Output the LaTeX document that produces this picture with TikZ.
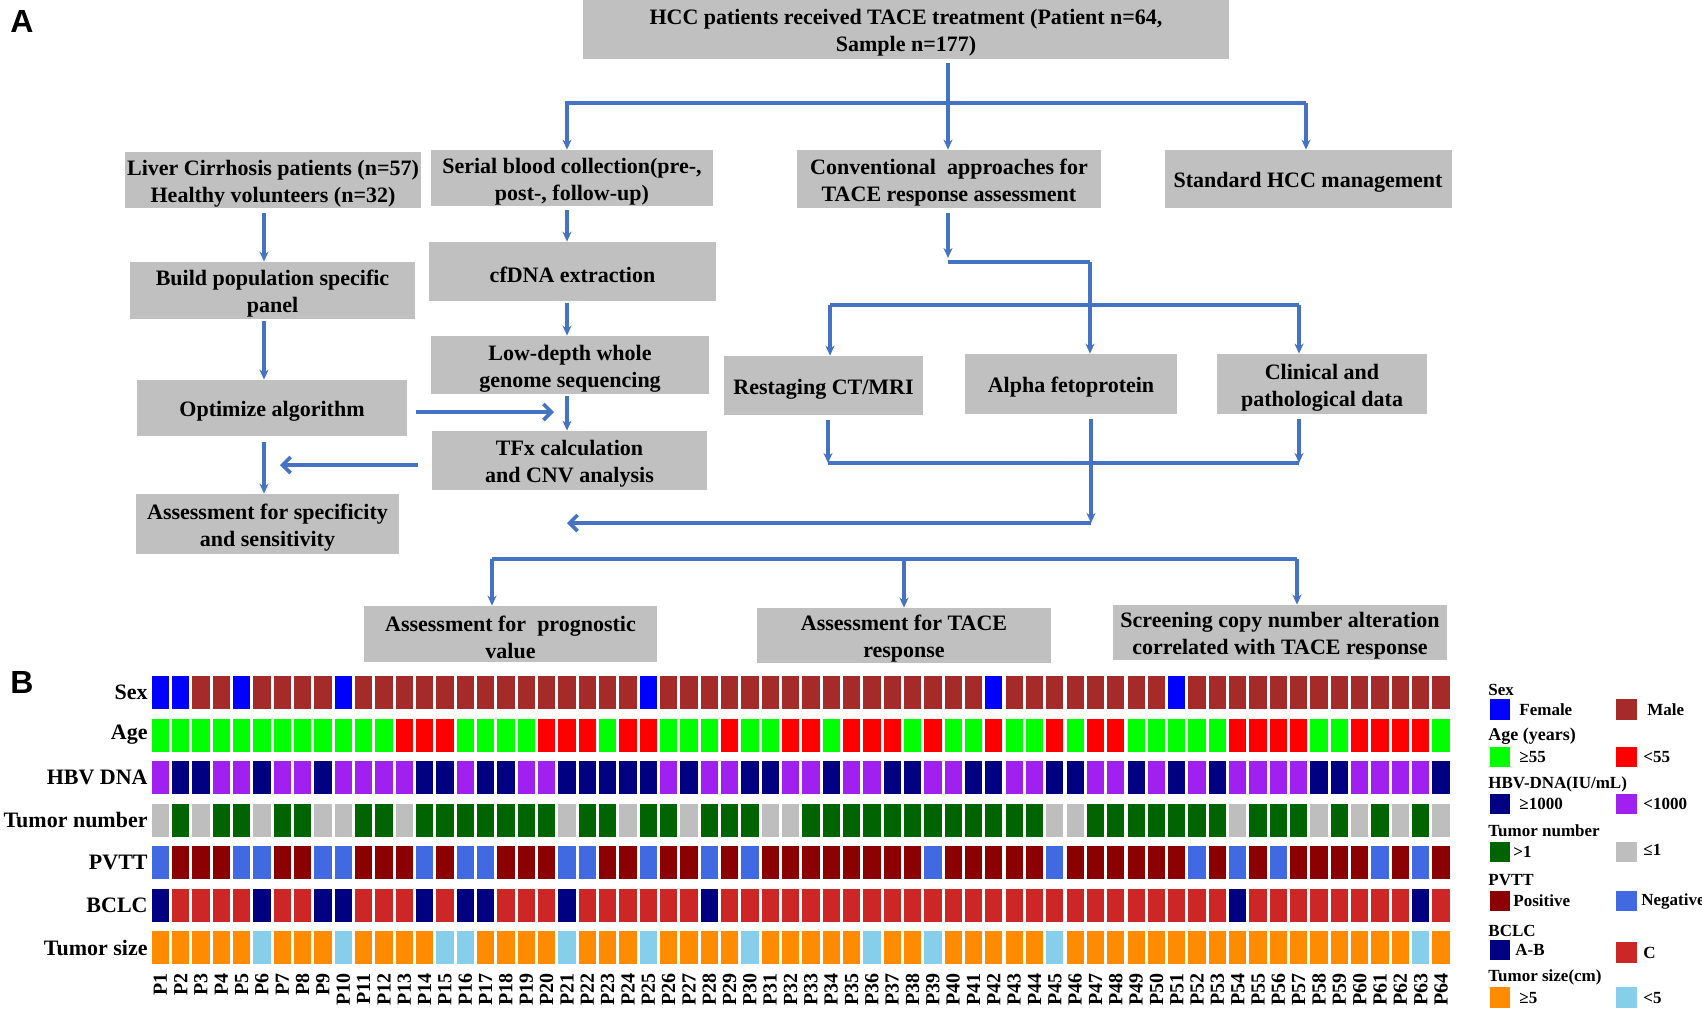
\documentclass[tikz,border=0pt]{standalone}
\usepackage{fontspec}
\setmainfont{Liberation Serif}
\newfontfamily\panelfont{Liberation Sans}
\usepackage{tikz}
\usetikzlibrary{arrows.meta,positioning}
\definecolor{boxgray}{RGB}{192,192,192}
\definecolor{flowblue}{RGB}{68,114,196}
\definecolor{sxF}{RGB}{0,0,255}
\definecolor{sxM}{RGB}{165,42,42}
\definecolor{agG}{RGB}{0,255,0}
\definecolor{agR}{RGB}{255,0,0}
\definecolor{hbN}{RGB}{0,0,128}
\definecolor{hbP}{RGB}{160,32,240}
\definecolor{tnG}{RGB}{0,100,0}
\definecolor{tnY}{RGB}{190,190,190}
\definecolor{pvP}{RGB}{139,0,0}
\definecolor{pvN}{RGB}{65,105,225}
\definecolor{bcA}{RGB}{0,0,128}
\definecolor{bcC}{RGB}{205,38,38}
\definecolor{tsO}{RGB}{255,140,0}
\definecolor{tsB}{RGB}{135,206,235}
% one row of the heatmap: row index, colour prefix, codes
\newcommand{\heatrow}[3]{%
  \foreach \v [count=\i] in {#3} {
    \fill[fill=#2\v] ({160.3+(\i-1)*20.33-8.65},{676+(#1-1)*42.5}) rectangle ++(17.3,33);
  }%
}
\begin{document}
\begin{tikzpicture}[
    x=0.5pt, y=-0.5pt,
    box/.style={fill=boxgray, align=center, inner sep=0pt, font=\fontsize{11}{13.5}\selectfont\bfseries},
    oneline/.style={box, text height=11pt},
    twoline/.style={box, text height=24.5pt},
    arrow/.style={-{Stealth[length=5pt,width=4.5pt]}, line width=1.8pt, flowblue},
    barb/.style={-{Straight Barb[length=4pt,width=8pt]}, line width=1.8pt, flowblue},
    link/.style={line width=1.8pt, flowblue},
    rowlab/.style={anchor=east, inner sep=0pt, font=\fontsize{11}{13}\selectfont\bfseries},
    plab/.style={rotate=90, anchor=east, inner sep=0pt, font=\fontsize{10}{12}\selectfont\bfseries},
    legtxt/.style={anchor=west, inner sep=0pt, font=\fontsize{8.5}{10}\selectfont\bfseries},
    swatch/.style={minimum width=10.35pt, minimum height=10.35pt, inner sep=0pt}
]
\useasboundingbox (0,0) rectangle (1702,1008);

\node[font=\fontsize{16}{18}\panelfont\bfseries] (pa) at (22,21) {A};
\node[font=\fontsize{16}{18}\panelfont\bfseries] (pb) at (22,682) {B};

% flow chart
\node[twoline, minimum width=323pt, minimum height=29.5pt] (top) at (906,29.5) {HCC patients received TACE treatment (Patient n=64,\\Sample n=177)};
\node[twoline, minimum width=148pt, minimum height=28pt] (liver) at (273,180) {Liver Cirrhosis patients (n=57)\\Healthy volunteers (n=32)};
\node[twoline, minimum width=141pt, minimum height=28pt] (serial) at (572,178) {Serial blood collection(pre-,\\post-, follow-up)};
\node[twoline, minimum width=152pt, minimum height=29pt] (conv) at (949,179) {Conventional\ \ approaches for\\TACE response assessment};
\node[oneline, minimum width=143.5pt, minimum height=29pt] (std) at (1308,179) {Standard HCC management};
\node[twoline, minimum width=142.5pt, minimum height=28.5pt] (build) at (272.5,290.5) {Build population specific\\panel};
\node[oneline, minimum width=143.5pt, minimum height=29.5pt] (cfdna) at (572.5,271.5) {cfDNA extraction};
\node[oneline, minimum width=135pt, minimum height=28pt] (optim) at (272,408) {Optimize algorithm};
\node[twoline, minimum width=139pt, minimum height=29pt] (lowdep) at (570,365) {Low-depth whole\\genome sequencing};
\node[twoline, minimum width=137.5pt, minimum height=29.5pt] (tfx) at (569.5,460.5) {TFx calculation\\and CNV analysis};
\node[twoline, minimum width=131.5pt, minimum height=30pt] (spec) at (267.5,524) {Assessment for specificity\\and sensitivity};
\node[oneline, minimum width=99.5pt, minimum height=29.5pt] (restage) at (823.5,385.5) {Restaging CT/MRI};
\node[oneline, minimum width=106pt, minimum height=30pt] (afp) at (1071,384) {Alpha fetoprotein};
\node[twoline, minimum width=105pt, minimum height=30pt] (clin) at (1322,384) {Clinical and\\pathological data};
\node[twoline, minimum width=146.5pt, minimum height=28pt] (progn) at (510.5,634) {Assessment for\ \ prognostic\\value};
\node[twoline, minimum width=147pt, minimum height=27.5pt] (tresp) at (904,635.5) {Assessment for TACE\\response};
\node[twoline, minimum width=167pt, minimum height=27.5pt] (screen) at (1280,632.5) {Screening copy number alteration\\correlated with TACE response};

\coordinate (tl) at (567,103);
\coordinate (tc) at (948,103);
\coordinate (tr) at (1306,103);
\coordinate (lx) at (264,0);
\coordinate (mx) at (567,0);
\draw[arrow, shorten <=2pt] (top.south -| tc) -- (conv.north -| tc);
\draw[arrow] (tr) -- (tl) -- (serial.north -| tl);
\draw[arrow] (tr) -- (std.north -| tr);

\draw[arrow, shorten <=2.5pt] (liver.south -| lx) -- (build.north -| lx);
\draw[arrow, shorten <=1pt] (build.south -| lx) -- (optim.north -| lx);
\draw[arrow, shorten <=3pt] (optim.south -| lx) -- (spec.north -| lx);
\draw[arrow, shorten <=2pt] (serial.south -| mx) -- (cfdna.north -| mx);
\draw[arrow, shorten <=1pt] (cfdna.south -| mx) -- (lowdep.north -| mx);
\draw[arrow, shorten <=1pt] (lowdep.south -| mx) -- (tfx.north -| mx);

\coordinate (oa) at (554,412);
\coordinate (ta) at (280,465);
\draw[barb, shorten <=4.5pt] (optim.east |- oa) -- (oa);
\draw[barb, shorten <=7pt] (tfx.west |- ta) -- (ta);

\coordinate (c1) at (948,258);
\coordinate (c2) at (948,262);
\coordinate (c3) at (1090,262);
\coordinate (r1) at (830,305);
\coordinate (r2) at (1299,305);
\draw[arrow, shorten <=2.5pt] (conv.south -| c1) -- (c1);
\draw[link] (c2) -- (c3);
\draw[arrow] (c3) -- (afp.north -| c3);
\draw[link] (r1) -- (r2);
\draw[arrow] (r1) -- (restage.north -| r1);
\draw[arrow] (r2) -- (clin.north -| r2);

\coordinate (d1) at (828,463);
\coordinate (d2) at (1299,463);
\coordinate (d3) at (1091,523);
\coordinate (d4) at (567,523);
\draw[arrow, shorten <=2.5pt] (restage.south -| d1) -- (d1);
\draw[arrow, shorten <=2.5pt] (clin.south -| d2) -- (d2);
\draw[link] (d1) -- (d2);
\draw[arrow, shorten <=2.5pt] (afp.south -| d3) -- (d3);
\draw[barb] (d3) -- (d4);

\coordinate (b1) at (492,559);
\coordinate (b2) at (1297,559);
\coordinate (b3) at (904,559);
\draw[link] (b1) -- (b2);
\draw[arrow] (b1) -- (progn.north -| b1);
\draw[arrow] (b3) -- (tresp.north -| b3);
\draw[arrow] (b2) -- (screen.north -| b2);

% heatmap
\heatrow{1}{sx}{F,F,M,M,F,M,M,M,M,F, M,M,M,M,M,M,M,M,M,M, M,M,M,M,F,M,M,M,M,M, M,M,M,M,M,M,M,M,M,M, M,F,M,M,M,M,M,M,M,M, F,M,M,M,M,M,M,M,M,M, M,M,M,M}
\heatrow{2}{ag}{G,G,G,G,G,G,G,G,G,G, G,G,R,R,R,G,G,G,G,R, R,R,G,R,R,G,G,G,R,G, G,R,R,G,R,R,R,G,R,G, G,R,G,G,R,G,R,R,G,G, G,G,G,R,R,R,R,G,G,R, R,R,R,G}
\heatrow{3}{hb}{P,N,N,P,P,N,P,P,N,P, P,P,P,N,N,P,N,N,P,P, N,N,N,N,N,P,N,P,P,N, N,P,P,N,P,P,N,N,P,P, N,N,P,P,N,N,P,P,N,P, N,P,N,P,P,P,P,N,N,P, P,P,P,N}
\heatrow{4}{tn}{Y,G,Y,G,G,Y,G,G,Y,Y, G,G,Y,G,G,G,G,G,G,G, Y,G,G,Y,G,G,Y,G,G,G, Y,Y,G,G,G,G,G,G,G,G, G,G,G,G,Y,Y,G,G,G,G, G,G,G,Y,G,G,G,Y,G,Y, G,Y,G,Y}
\heatrow{5}{pv}{N,P,P,P,N,N,P,P,N,N, P,P,P,N,P,N,N,P,P,P, N,N,P,P,N,P,P,N,P,N, P,P,P,P,P,P,P,P,N,P, P,P,P,P,N,P,P,P,P,P, P,N,P,N,P,N,P,P,P,P, N,P,N,P}
\heatrow{6}{bc}{A,C,C,C,C,A,C,C,A,A, C,C,C,A,C,A,A,C,C,C, A,C,C,C,C,C,C,A,C,C, C,C,C,C,C,C,C,C,C,C, C,C,C,C,C,C,C,C,C,C, C,C,C,A,C,C,C,C,C,C, C,C,A,C}
\heatrow{7}{ts}{O,O,O,O,O,B,O,O,O,B, O,O,O,O,B,B,O,O,O,O, B,O,O,O,B,O,O,O,O,B, O,O,O,O,O,B,O,O,B,O, O,O,O,O,B,O,O,O,O,O, O,O,O,O,O,O,O,O,O,O, O,O,B,O}

\foreach \t [count=\r] in {Sex,Age,HBV DNA,Tumor number,PVTT,BCLC,Tumor size}
  \node[rowlab] (lab\r) at (148,{692.5+(\r-1)*42.5}) {\t};
\foreach \i in {1,...,64}
  \node[plab] (p\i) at ({160.3+(\i-1)*20.33},973) {P\i};

% legend
\node[legtxt] (hsex) at (1488,690) {Sex};
\node[swatch, fill=sxF] (kf) at (1500,709.5) {};
\node[legtxt] (tf) at (1519,709.5) {Female};
\node[swatch, fill=sxM] (km) at (1626.5,709.5) {};
\node[legtxt] (tm) at (1647,709.5) {Male};

\node[legtxt, font=\fontsize{9}{10}\selectfont\bfseries] (hage) at (1488,736) {Age (years)};
\node[swatch, fill=agG] (kg) at (1500,757) {};
\node[legtxt] (tg) at (1519,757) {≥55};
\node[swatch, fill=agR] (kr) at (1626.5,757) {};
\node[legtxt] (tr2) at (1643,757) {<55};

\node[legtxt] (hhbv) at (1488,784) {HBV-DNA(IU/mL)};
\node[swatch, fill=hbN] (kn) at (1500,804) {};
\node[legtxt] (tn) at (1519,804) {≥1000};
\node[swatch, fill=hbP] (kp) at (1626.5,804) {};
\node[legtxt] (tp) at (1643,804) {<1000};

\node[legtxt] (htum) at (1488,831) {Tumor number};
\node[swatch, fill=tnG] (kt1) at (1500,852) {};
\node[legtxt] (tt1) at (1513,852) {>1};
\node[swatch, fill=tnY] (kt2) at (1626.5,852) {};
\node[legtxt] (tt2) at (1643,850) {≤1};

\node[legtxt] (hpv) at (1488,880) {PVTT};
\node[swatch, fill=pvP] (kpos) at (1500,901) {};
\node[legtxt] (tpos) at (1513,901) {Positive};
\node[swatch, fill=pvN] (kneg) at (1626.5,901) {};
\node[legtxt] (tneg) at (1641,901) {Negative};

\node[legtxt] (hbc) at (1488,931) {BCLC};
\node[swatch, fill=bcA] (kab) at (1500,950) {};
\node[legtxt] (tab) at (1515,950) {A-B};
\node[swatch, fill=bcC] (kc) at (1626.5,952.7) {};
\node[legtxt] (tc2) at (1643,953) {C};

\node[legtxt] (hts) at (1488,977) {Tumor size(cm)};
\node[swatch, fill=tsO] (ko) at (1500,997.5) {};
\node[legtxt] (to) at (1519,997.5) {≥5};
\node[swatch, fill=tsB] (kb) at (1626.5,997.5) {};
\node[legtxt] (tb) at (1643,997.5) {<5};
\end{tikzpicture}
\end{document}
